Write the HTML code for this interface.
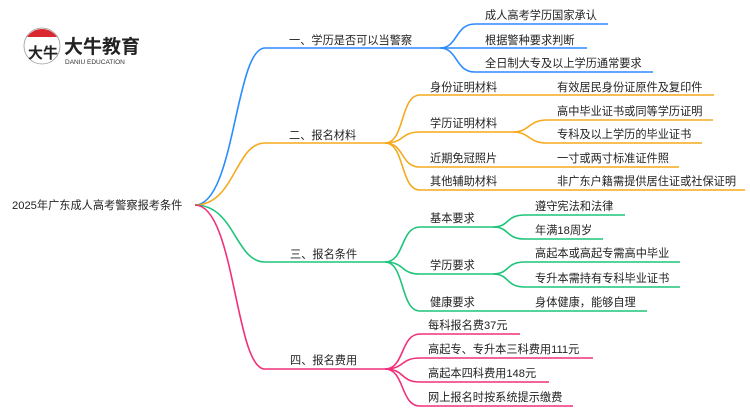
<!DOCTYPE html>
<html><head><meta charset="utf-8"><style>
html,body{margin:0;padding:0;background:#fff;width:750px;height:410px;overflow:hidden}
text{font-family:"Liberation Sans","Noto Sans CJK SC",sans-serif;font-size:11.2px;fill:#222}
</style></head><body>
<svg width="750" height="410" viewBox="0 0 750 410" xmlns="http://www.w3.org/2000/svg">
<g fill="none" stroke-width="1.6">
<g stroke="#2b8cff">
<path d="M195,205 C235,205 235,48 265,48 L440,48"/>
<path d="M440,48 C458,48 455,24 475,24 L608,24"/>
<path d="M440,48 L587,48"/>
<path d="M440,48 C458,48 455,72 475,72 L653,72"/>
</g>
<g stroke="#f5aa1e">
<path d="M195,205 C235,205 235,143 265,143 L385,143"/>
<path d="M385,143 C405,143 400,95 420,95 L714,95"/>
<path d="M385,143 C405,143 400,132 420,132 L513,132"/>
<path d="M385,143 C405,143 400,167 420,167 L679,167"/>
<path d="M385,143 C405,143 400,190 420,190 L745,190"/>
<path d="M513,132 C530,132 528,120 547,120 L713,120"/>
<path d="M513,132 C530,132 528,143 547,143 L702,143"/>
</g>
<g stroke="#1fc47a">
<path d="M195,205 C235,205 235,262 265,262 L385,262"/>
<path d="M385,262 C405,262 400,227 420,227 L493,227"/>
<path d="M385,262 C405,262 400,274 420,274 L493,274"/>
<path d="M385,262 C405,262 400,311 420,311 L647,311"/>
<path d="M493,227 C510,227 505,215 525,215 L625,215"/>
<path d="M493,227 C510,227 505,239 525,239 L603,239"/>
<path d="M493,274 C510,274 505,262 525,262 L680,262"/>
<path d="M493,274 C510,274 505,287 525,287 L680,287"/>
</g>
<g stroke="#f0307a">
<path d="M195,205 C235,205 235,369 265,369 L385,369"/>
<path d="M385,369 C405,369 400,334 420,334 L520,334"/>
<path d="M385,369 C405,369 400,358 420,358 L593,358"/>
<path d="M385,369 C405,369 400,382 420,382 L549,382"/>
<path d="M385,369 C405,369 400,406 420,406 L573,406"/>
</g>
</g>
<circle cx="42" cy="46" r="18" fill="#fff" stroke="#999" stroke-width="0.8"/>
<path d="M27,37 A18,18 0 0 1 57,37 Z" fill="#d9282e"/>
<text x="28" y="58" style="font-size:15px;font-weight:bold">大牛</text>
<text x="64" y="53" style="font-size:19px;font-weight:bold;fill:#222">大牛教育</text>
<text x="65" y="64" style="font-size:6.5px;fill:#333">DANIU EDUCATION</text>

<text x="12" y="209">2025年广东成人高考警察报考条件</text>
<text x="289" y="44">一、学历是否可以当警察</text>
<text x="485" y="19">成人高考学历国家承认</text>
<text x="485" y="44">根据警种要求判断</text>
<text x="485" y="67">全日制大专及以上学历通常要求</text>

<text x="289" y="139">二、报名材料</text>
<text x="430" y="91">身份证明材料</text>
<text x="430" y="127">学历证明材料</text>
<text x="430" y="162">近期免冠照片</text>
<text x="430" y="185">其他辅助材料</text>
<text x="557" y="91">有效居民身份证原件及复印件</text>
<text x="557" y="115">高中毕业证书或同等学历证明</text>
<text x="557" y="138">专科及以上学历的毕业证书</text>
<text x="557" y="162">一寸或两寸标准证件照</text>
<text x="557" y="185">非广东户籍需提供居住证或社保证明</text>

<text x="290" y="258">三、报名条件</text>
<text x="430" y="222">基本要求</text>
<text x="430" y="269">学历要求</text>
<text x="430" y="306">健康要求</text>
<text x="535" y="210">遵守宪法和法律</text>
<text x="535" y="234">年满18周岁</text>
<text x="535" y="257">高起本或高起专需高中毕业</text>
<text x="535" y="282">专升本需持有专科毕业证书</text>
<text x="535" y="306">身体健康，能够自理</text>

<text x="290" y="364">四、报名费用</text>
<text x="428" y="329">每科报名费37元</text>
<text x="428" y="353">高起专、专升本三科费用111元</text>
<text x="428" y="377">高起本四科费用148元</text>
<text x="428" y="401">网上报名时按系统提示缴费</text>
</svg>
</body></html>
